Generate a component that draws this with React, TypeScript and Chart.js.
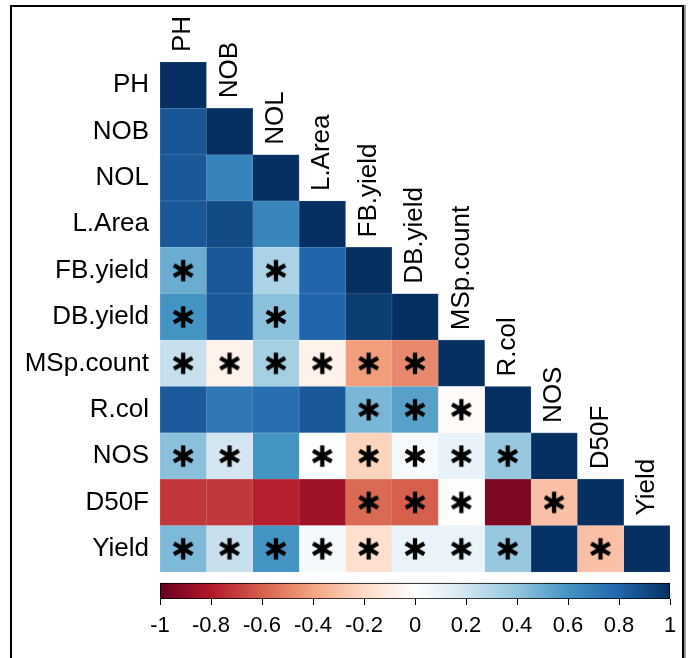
import { useEffect, useRef } from 'react';
import { Chart, registerables } from 'chart.js';

Chart.register(...registerables);

// Variable names (rows top→bottom, columns left→right)
const rowLabels = ['PH', 'NOB', 'NOL', 'L.Area', 'FB.yield', 'DB.yield', 'MSp.count', 'R.col', 'NOS', 'D50F', 'Yield'];
const colLabels = rowLabels;

// Lower-triangle correlation values, one array per row
const corrPH = [1];
const corrNOB = [0.86, 1];
const corrNOL = [0.85, 0.67, 1];
const corrLArea = [0.85, 0.9, 0.66, 1];
const corrFB = [0.5, 0.85, 0.32, 0.8, 1];
const corrDB = [0.6, 0.85, 0.42, 0.8, 0.95, 1];
const corrMSp = [0.23, -0.07, 0.34, -0.07, -0.42, -0.48, 1];
const corrRcol = [0.84, 0.72, 0.76, 0.85, 0.46, 0.55, -0.02, 1];
const corrNOS = [0.42, 0.19, 0.6, 0.01, -0.23, 0.04, 0.1, 0.38, 1];
const corrD50F = [-0.71, -0.71, -0.78, -0.85, -0.57, -0.6, -0.01, -0.94, -0.3, 1];
const corrYield = [0.45, 0.23, 0.6, 0.05, -0.17, 0.09, 0.09, 0.38, 0.99, -0.3, 1];

// Asterisk marks (1 = marked), one array per row
const sigPH = [0];
const sigNOB = [0, 0];
const sigNOL = [0, 0, 0];
const sigLArea = [0, 0, 0, 0];
const sigFB = [1, 0, 1, 0, 0];
const sigDB = [1, 0, 1, 0, 0, 0];
const sigMSp = [1, 1, 1, 1, 1, 1, 0];
const sigRcol = [0, 0, 0, 0, 1, 1, 1, 0];
const sigNOS = [1, 1, 0, 1, 1, 1, 1, 1, 0];
const sigD50F = [0, 0, 0, 0, 1, 1, 1, 0, 1, 0];
const sigYield = [1, 1, 1, 1, 1, 1, 1, 1, 0, 1, 0];

// Colour bar ticks
const legendMin = -1;
const legendMax = 1;
const legendStep = 0.2;

// RdBu palette (corrplot COL2)
const palette = ['#67001F', '#B2182B', '#D6604D', '#F4A582', '#FDDBC7', '#FFFFFF', '#D1E5F0', '#92C5DE', '#4393C3', '#2166AC', '#053061'];

const corrRows = [corrPH, corrNOB, corrNOL, corrLArea, corrFB, corrDB, corrMSp, corrRcol, corrNOS, corrD50F, corrYield];
const sigRows = [sigPH, sigNOB, sigNOL, sigLArea, sigFB, sigDB, sigMSp, sigRcol, sigNOS, sigD50F, sigYield];

const FONT = '"Liberation Sans", Arial, Helvetica, sans-serif';

function hexToRgb(h: string): number[] {
  const n = parseInt(h.slice(1), 16);
  return [(n >> 16) & 255, (n >> 8) & 255, n & 255];
}
const palRgb = palette.map(hexToRgb);

function colorFor(v: number, mixWhite = 0): string {
  const t = Math.max(0, Math.min(1, (v + 1) / 2)) * (palRgb.length - 1);
  const i = Math.min(palRgb.length - 2, Math.floor(t));
  const f = t - i;
  const a = palRgb[i];
  const b = palRgb[i + 1];
  const c = a.map((av, k) => av + (b[k] - av) * f).map((x) => Math.round(x + (255 - x) * mixWhite));
  return `rgb(${c[0]},${c[1]},${c[2]})`;
}

function makeStar(): HTMLCanvasElement {
  const s = 26;
  const c = document.createElement('canvas');
  c.width = s;
  c.height = s;
  const g = c.getContext('2d')!;
  g.strokeStyle = '#000';
  g.lineWidth = 4.3;
  g.lineCap = 'butt';
  const r = 10.7;
  for (const a of [90, 30, 150]) {
    const rad = (a * Math.PI) / 180;
    g.beginPath();
    g.moveTo(s / 2 - r * Math.cos(rad), s / 2 - r * Math.sin(rad));
    g.lineTo(s / 2 + r * Math.cos(rad), s / 2 + r * Math.sin(rad));
    g.stroke();
  }
  return c;
}

const colLabelPlugin = {
  id: 'colLabels',
  afterDatasetsDraw(chart: any) {
    const { ctx, scales } = chart;
    const x = scales.x;
    const y = scales.y;
    ctx.save();
    ctx.font = `26px ${FONT}`;
    ctx.fillStyle = '#000';
    ctx.textAlign = 'left';
    ctx.textBaseline = 'middle';
    colLabels.forEach((lab, j) => {
      const px = x.getPixelForValue(j);
      const py = y.getPixelForValue(j - 0.5) - 10;
      ctx.save();
      ctx.translate(px, py);
      ctx.rotate(-Math.PI / 2);
      ctx.fillText(lab, 0, 0);
      ctx.restore();
    });
    ctx.restore();
  },
};

export default function App() {
  const ref = useRef<HTMLCanvasElement>(null);

  useEffect(() => {
    document.body.style.margin = '0';
    const canvas = ref.current;
    if (!canvas) return;

    const star = makeStar();
    const n = rowLabels.length;

    const cellDatasets: any[] = [];
    for (let j = 0; j < n; j++) {
      const data: any[] = [];
      const bg: string[] = [];
      const bd: string[] = [];
      for (let i = j; i < n; i++) {
        const v = corrRows[i][j];
        data.push({ x: [j - 0.5, j + 0.5], y: i });
        bg.push(colorFor(v));
        bd.push(colorFor(v, 0.22));
      }
      cellDatasets.push({
        type: 'bar',
        indexAxis: 'y',
        xAxisID: 'x',
        yAxisID: 'y',
        data,
        backgroundColor: bg,
        borderColor: bd,
        borderWidth: 0.6,
        borderSkipped: false,
        grouped: false,
        barPercentage: 1,
        categoryPercentage: 1,
        order: 2,
      });
    }

    const starPoints: any[] = [];
    sigRows.forEach((row, i) => {
      row.forEach((s, j) => {
        if (s) starPoints.push({ x: j, y: i });
      });
    });

    const chart = new Chart(canvas, {
      type: 'bar',
      data: {
        datasets: [
          {
            type: 'scatter',
            xAxisID: 'x',
            yAxisID: 'y',
            data: starPoints,
            pointStyle: star,
            pointRadius: 10,
            pointHoverRadius: 10,
            order: 0,
          } as any,
          ...cellDatasets,
          {
            type: 'bar',
            indexAxis: 'y',
            xAxisID: 'xc',
            yAxisID: 'yc',
            data: [{ x: [legendMin, legendMax], y: 10.911 }],
            barThickness: 16,
            grouped: false,
            borderColor: '#000',
            borderWidth: 1,
            borderSkipped: false,
            backgroundColor: (c: any) => {
              const ch = c.chart;
              const xs = ch.scales.xc;
              if (!xs || !ch.chartArea) return '#ffffff';
              const g = ch.ctx.createLinearGradient(xs.getPixelForValue(legendMin), 0, xs.getPixelForValue(legendMax), 0);
              palette.forEach((col, k) => g.addColorStop(k / (palette.length - 1), col));
              return g;
            },
            order: 3,
          } as any,
        ],
      },
      options: {
        responsive: false,
        animation: false,
        events: [],
        layout: { padding: { left: 0, top: 62, right: 21, bottom: 0 } },
        plugins: {
          legend: { display: false },
          tooltip: { enabled: false },
        },
        scales: {
          x: {
            type: 'linear',
            axis: 'x',
            min: -0.5,
            max: 10.5,
            offset: false,
            display: false,
          },
          y: {
            type: 'linear',
            axis: 'y',
            position: 'left',
            reverse: true,
            min: -0.5,
            max: 11.083,
            offset: false,
            afterBuildTicks: (s: any) => {
              s.ticks = rowLabels.map((_, i) => ({ value: i }));
            },
            afterFit: (s: any) => {
              s.width = 160;
            },
            ticks: {
              autoSkip: false,
              padding: 11,
              color: '#000',
              font: { family: FONT, size: 26 },
              callback: (_v: any, idx: number) => rowLabels[idx],
            },
            grid: { display: false, drawTicks: false },
            border: { display: false },
          },
          xc: {
            type: 'linear',
            axis: 'x',
            position: 'bottom',
            min: legendMin,
            max: legendMax,
            offset: false,
            afterFit: (s: any) => {
              s.height = 59;
            },
            ticks: {
              stepSize: legendStep,
              autoSkip: false,
              maxRotation: 0,
              padding: 8,
              color: '#000',
              font: { family: FONT, size: 22 },
              callback: (v: any) => String(Math.round(Number(v) * 10) / 10),
            },
            grid: {
              display: true,
              drawOnChartArea: false,
              drawTicks: true,
              tickLength: 6,
              color: '#000',
              lineWidth: 1,
              offset: false,
            },
            border: { display: false },
          },
          yc: {
            type: 'linear',
            axis: 'y',
            position: 'left',
            reverse: true,
            min: -0.5,
            max: 11.083,
            offset: false,
            display: false,
          },
        },
      } as any,
      plugins: [colLabelPlugin],
    });

    return () => chart.destroy();
  }, []);

  return (
    <div style={{ position: 'relative', width: 691, height: 658, overflow: 'hidden', background: '#fff' }}>
      <canvas
        ref={ref}
        width={691}
        height={658}
        style={{ position: 'absolute', left: 0, top: 0, width: 691, height: 658 }}
      />
      <div
        style={{
          position: 'absolute',
          left: 10,
          top: 5,
          width: 670,
          height: 720,
          borderTop: '2px solid #000',
          borderLeft: '2px solid #000',
          borderRight: '2px solid #000',
          boxShadow: '2px 0 0 #999',
          pointerEvents: 'none',
        }}
      />
    </div>
  );
}
